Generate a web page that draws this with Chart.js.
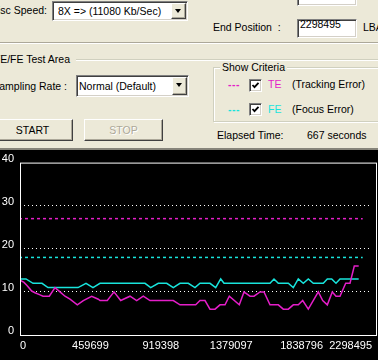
<!DOCTYPE html>
<html lang="en">
<head>
<meta charset="UTF-8">
<title>TE/FE Test</title>
<script src="https://cdn.jsdelivr.net/npm/chart.js"></script>
<style>
  body { margin: 0; width: 378px; height: 360px; overflow: hidden; background: #000;
         font-family: "Liberation Sans", Arial, sans-serif; font-size: 10.5px; }
  .panel { position: absolute; left: 0; top: 0; width: 378px; height: 148px; background: #ece9d8; overflow: hidden; }
  .sep { position: absolute; left: 0; top: 148px; width: 378px; height: 2px; background: #86847a; }
  .lbl { position: absolute; white-space: nowrap; line-height: 13px; color: #000; }
  .rt { text-align: right; }
  .sunken { position: absolute; box-sizing: border-box; background: #fff;
            border: 1px solid; border-color: #808080 #fff #fff #808080;
            box-shadow: inset 1px 1px 0 #404040, inset -1px -1px 0 #d4d0c8; }
  .raised { position: absolute; box-sizing: border-box; background: #ece9d8;
            border: 1px solid; border-color: #fff #404040 #404040 #fff;
            box-shadow: inset -1px -1px 0 #aca899; text-align: center; }
  .combo .txt { position: absolute; left: 3px; white-space: nowrap; line-height: 13px; }
  .combo .arrow { position: absolute; right: 1px; top: 1px; bottom: 1px; width: 15px; }
  .arrow::after { content: ""; position: absolute; left: 3px; top: 5px;
                  border-left: 3.5px solid transparent; border-right: 3.5px solid transparent; border-top: 4px solid #000; }
  .groove { position: absolute; height: 1px; background: #aca899; box-shadow: 0 1px 0 #fff; }
  .group { position: absolute; box-sizing: border-box; border: 1px solid #d0d0bf; box-shadow: inset 1px 1px 0 #fff, 1px 1px 0 #fff; }
  .chk { position: absolute; width: 13px; height: 13px; box-sizing: border-box; background: #fff;
         border: 1px solid; border-color: #808080 #fff #fff #808080;
         box-shadow: inset 1px 1px 0 #404040, inset -1px -1px 0 #d4d0c8; }
  .chk svg { position: absolute; left: 1px; top: 1px; }
  .te { color: #e41ec8; }
  .fe { color: #18e4dc; }
  .dash { font-weight: bold; letter-spacing: 0.5px; }
  #chartBox { position: absolute; left: 0; top: 150px; width: 378px; height: 210px; background: #000; }
</style>
</head>
<body>
<div class="panel">
  <div class="lbl rt" style="right:331px; top:4px;">Disc Speed:</div>
  <div class="sunken combo" style="left:52px; top:1px; width:136px; height:20px;">
    <div class="txt" style="left:5px; top:3px;">8X =&gt; (11080 Kb/Sec)</div>
    <div class="raised arrow"></div>
  </div>

  <div class="lbl" style="left:213px; top:-10px;">Start Position :</div>
  <div class="sunken" style="left:297px; top:-13px; width:60px; height:19px;"></div>
  <div class="lbl" style="left:363px; top:-10px;">LBA</div>

  <div class="lbl" style="left:213px; top:21px;">End Position&nbsp; :</div>
  <div class="sunken" style="left:297px; top:19px; width:60px; height:19px;">
    <div class="lbl" style="left:2px; top:0px; line-height:9px;">2298495</div>
  </div>
  <div class="lbl" style="left:363px; top:21px;">LBA</div>

  <div class="groove" style="left:0; top:42px; width:378px;"></div>

  <div class="lbl rt" style="right:308px; top:53px;">TE/FE Test Area</div>
  <div class="groove" style="left:76px; top:59px; width:302px; background:#d0d0bf;"></div>

  <div class="lbl rt" style="right:311px; top:80px;">Sampling Rate :</div>
  <div class="sunken combo" style="left:76px; top:75px; width:113px; height:22px;">
    <div class="txt" style="left:2px; top:4px;">Normal (Default)</div>
    <div class="raised arrow"></div>
  </div>

  <div class="raised" style="left:-8px; top:119px; width:81px; height:22px; line-height:20px;">START</div>
  <div class="raised" style="left:84px; top:119px; width:79px; height:22px; line-height:20px; color:#aca899; text-shadow:1px 1px 0 #fff;">STOP</div>

  <div class="group" style="left:213px; top:67px; width:200px; height:55px;"></div>
  <div class="lbl" style="left:220px; top:61px; background:#ece9d8; padding:0 2px;">Show Criteria</div>

  <div class="lbl te dash" style="left:228px; top:78px;">---</div>
  <div class="chk" style="left:249px; top:79px;"><svg width="9" height="9" viewBox="0 0 9 9"><polyline points="1.5,4 3.5,6.2 7.5,1.8" fill="none" stroke="#000" stroke-width="1.8"/></svg></div>
  <div class="lbl te" style="left:268px; top:78px;">TE</div>
  <div class="lbl" style="left:292px; top:78px;">(Tracking Error)</div>

  <div class="lbl fe dash" style="left:228px; top:103px;">---</div>
  <div class="chk" style="left:249px; top:103px;"><svg width="9" height="9" viewBox="0 0 9 9"><polyline points="1.5,4 3.5,6.2 7.5,1.8" fill="none" stroke="#000" stroke-width="1.8"/></svg></div>
  <div class="lbl fe" style="left:268px; top:103px;">FE</div>
  <div class="lbl" style="left:292px; top:103px;">(Focus Error)</div>

  <div class="lbl" style="left:217px; top:129px;">Elapsed Time:</div>
  <div class="lbl" style="left:307px; top:129px;">667 seconds</div>
</div>
<div class="sep"></div>
<div id="chartBox"><canvas id="teChart"></canvas></div>

<script>
// x axis tick labels (LBA)
const xTicks = [0, 459699, 919398, 1379097, 1838796, 2298495];

// TE (tracking error) samples
const teLba = [0, 26119, 45709, 76399, 97947, 130596, 150185, 191323, 228543, 261192,
  293841, 326490, 374157, 413336, 468187, 511283, 522384, 570051, 613801, 657551,
  718278, 762028, 805124, 848874, 1001018, 1044768, 1147286, 1175364, 1208013, 1240662,
  1273311, 1305960, 1338609, 1366687, 1431984, 1462675, 1501854, 1527973, 1567152, 1593271,
  1632450, 1686647, 1719296, 1751945, 1784594, 1817243, 1845974, 1882541, 1947839, 1976570,
  2006608, 2039257, 2063417, 2089536, 2126756, 2154834, 2182912, 2211643];
const teVal = [12.7, 12.2, 11.5, 10.2, 9.8, 9.3, 9, 9, 11, 10,
  9, 8.3, 7, 8, 9, 8.3, 8, 8, 10, 8,
  9, 8, 9, 8, 8, 7, 7, 8, 8, 6,
  6, 7, 7, 9, 7, 10, 9, 9, 10, 10,
  7, 7, 6, 6, 7, 7, 8, 6, 10, 8,
  7, 10, 9, 9, 12, 12, 16, 16];

// FE (focus error) samples
const feLba = [0, 39179, 84887, 143656, 182834, 378728, 430967, 476675, 522384, 816225,
  853445, 903071, 957922, 1001018, 1044768, 1098965, 1142715, 1175364, 1240662, 1277883,
  1310532, 1332080, 1632450, 1658569, 1686647, 1751945, 1784594, 1817243, 1849892, 1882541,
  1915189, 1980487, 2006608, 2035339, 2063417, 2089536, 2211643];
const feVal = [13, 13, 12, 12, 11, 11, 12, 11, 12, 12,
  11, 12, 12, 11, 12, 12, 11, 12, 12, 11,
  13, 12, 12, 13, 12, 12, 11, 13, 12, 13,
  12, 12, 13, 13, 12, 13, 13];

// criteria lines
const teLimit = 27;
const feLimit = 18;
const limitEnd = 2237800;

const teColor = '#e41ec8';
const feColor = '#18e4dc';

const framePlugin = {
    id: 'frame',
    afterDatasetsDraw(chart) {
        const { ctx, chartArea: a } = chart;
        ctx.save();
        ctx.setLineDash([]);
        ctx.strokeStyle = '#fff';
        ctx.lineWidth = 1;
        ctx.strokeRect(a.left + 0.5, a.top + 0.5, a.right + 4 - a.left, a.bottom - a.top);
        ctx.restore();
    }
};

const ctx = document.getElementById('teChart').getContext('2d');
new Chart(ctx, {
    type: 'line',
    data: {
        datasets: [
            {
                label: 'TE limit',
                data: [{ x: 0, y: teLimit }, { x: limitEnd, y: teLimit }],
                borderColor: teColor, borderWidth: 1.5, borderDash: [3, 3], borderDashOffset: 1, pointRadius: 0
            },
            {
                label: 'FE limit',
                data: [{ x: 0, y: feLimit }, { x: limitEnd, y: feLimit }],
                borderColor: feColor, borderWidth: 1.5, borderDash: [3, 3], borderDashOffset: 1, pointRadius: 0
            },
            {
                label: 'TE',
                data: teLba.map((x, i) => ({ x: x, y: teVal[i] })),
                borderColor: teColor, borderWidth: 1.5, pointRadius: 0, tension: 0
            },
            {
                label: 'FE',
                data: feLba.map((x, i) => ({ x: x, y: feVal[i] })),
                borderColor: feColor, borderWidth: 1.5, pointRadius: 0, tension: 0
            }
        ]
    },
    options: {
        responsive: true,
        maintainAspectRatio: false,
        animation: false,
        layout: { padding: { top: 10, right: 6, left: 0, bottom: 0 } },
        plugins: { legend: { display: false }, tooltip: { enabled: false } },
        scales: {
            x: {
                type: 'linear',
                min: 0,
                max: 2298495,
                afterBuildTicks: scale => { scale.ticks = xTicks.map(v => ({ value: v })); },
                afterFit: scale => { scale.height = 25; },
                grid: { display: false, drawTicks: false },
                border: { display: false },
                ticks: {
                    color: '#fff',
                    align: 'inner',
                    padding: 4,
                    maxRotation: 0,
                    autoSkip: false,
                    font: { family: 'Liberation Sans', size: 11 },
                    callback: v => String(v)
                }
            },
            y: {
                min: 0,
                max: 40,
                afterFit: scale => { scale.width = 20; },
                grid: {
                    drawTicks: false,
                    lineWidth: 1,
                    color: c => (c.tick && (c.tick.value === 0 || c.tick.value === 40)) ? 'rgba(0,0,0,0)' : '#fff'
                },
                border: { display: false, dash: [1, 3] },
                ticks: {
                    color: '#fff',
                    stepSize: 10,
                    padding: 6,
                    labelOffset: -4,
                    font: { family: 'Liberation Sans', size: 11 },
                    callback: v => String(v)
                }
            }
        }
    },
    plugins: [framePlugin]
});
</script>
</body>
</html>
